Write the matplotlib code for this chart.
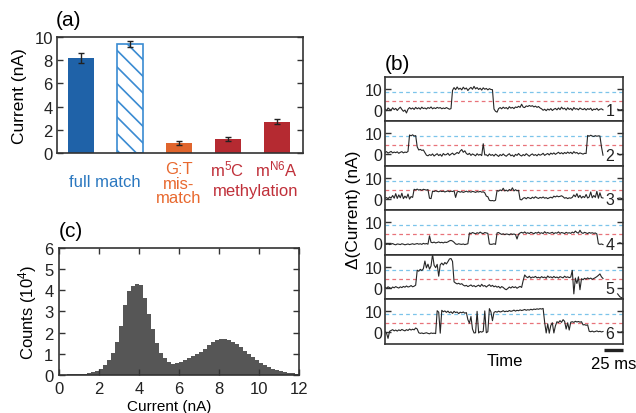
import matplotlib
matplotlib.use("Agg")
import matplotlib.pyplot as plt
import matplotlib.transforms as mtransforms
import numpy as np

plt.rcParams['font.family'] = ['Liberation Sans', 'DejaVu Sans']
plt.rcParams['mathtext.fontset'] = 'custom'
plt.rcParams['mathtext.rm'] = 'Liberation Sans'
plt.rcParams['mathtext.it'] = 'Liberation Sans:italic'
plt.rcParams['hatch.linewidth'] = 1.2

# ---------------------------------------------------------
# (a) bar data
# ---------------------------------------------------------
BAR_VALUES = [8.2, 9.4, 0.85, 1.2, 2.7]
BAR_ERRORS = [0.45, 0.25, 0.2, 0.15, 0.2]
BAR_COLORS = ['#1f62a8', 'white', '#e0652d', '#b52a31', '#b52a31']

# ---------------------------------------------------------
# (c) histogram, 0.2 nA bins from 0 to 12 nA (counts in 10^4)
# ---------------------------------------------------------
HIST_EDGES_START = 0.0
HIST_BIN = 0.2
HIST_COUNTS = [
    0.02, 0.02, 0.03, 0.03, 0.04, 0.05, 0.07, 0.09, 0.13, 0.20,
    0.30, 0.45, 0.70, 1.05, 1.55, 2.30, 3.30, 3.95, 4.20, 4.30,
    4.25, 3.65, 2.90, 2.15, 1.50, 1.05, 0.78, 0.62, 0.53, 0.55,
    0.62, 0.70, 0.78, 0.88, 0.98, 1.10, 1.25, 1.42, 1.57, 1.67,
    1.72, 1.72, 1.67, 1.58, 1.45, 1.30, 1.15, 1.00, 0.85, 0.70,
    0.57, 0.46, 0.37, 0.30, 0.24, 0.19, 0.15, 0.11, 0.08, 0.05,
]

# ---------------------------------------------------------
# (b) current traces, sampled every 2 ms from 0 to 284 ms
# ---------------------------------------------------------
TRACE_DT = 2.0
TRACE_1 = [
    0.3, -0.5, 0.8, 0.2, -0.3, 0.9, 0.0, 0.6, -0.4, 0.5,
    1.2, 0.1, -0.8, -0.2, -1.6, 0.2, 1.0, 0.3, 0.8, 0.1,
    1.1, 0.4, 0.9, 0.2, 1.2, 0.5, 0.8, 0.3, 1.0, 0.6,
    1.3, 0.4, 0.9, 0.5, 1.1, 0.7, 1.0, 0.4, 0.8, 0.5,
    1.0, 0.6, 0.2, 0.5, 9.3, 10.6, 9.6, 10.9, 9.8, 10.3,
    9.5, 10.8, 9.9, 10.4, 9.2, 10.1, 10.7, 9.8, 11.2, 10.0,
    10.6, 9.7, 10.3, 9.4, 10.5, 9.8, 10.2, 9.5, 10.1, 9.7,
    9.6, 0.3, -0.8, -1.2, 0.5, 1.0, 0.4, 1.2, 0.6, 1.0,
    0.3, 1.4, 0.7, 1.1, 0.5, 1.3, 1.0, 1.6, 1.1, 2.6,
    1.2, 1.0, 1.8, 1.5, 2.0, 1.6, 1.9, 1.3, 1.7, 1.1,
    1.5, 0.8, 0.4, -0.3, 0.2, -0.5, 0.3, -0.2, 0.5, -0.4,
    0.2, 0.6, -0.1, 0.8, 0.0, 1.2, 0.3, 0.7, -0.2, 0.9,
    0.1, 0.6, -0.3, 1.0, 0.2, 0.5, -0.1, 0.8, 0.3, 0.0,
    0.6, -0.2, 0.5, 0.1, 0.7, -0.4, 0.3, 0.0, 0.6, -0.3,
    0.2, 0.4, -0.1,
]
TRACE_2 = [
    0.8, 1.2, 0.5, 0.9, 1.3, 0.6, 1.0, 0.7, 1.1, 0.4,
    0.9, 1.2, 0.6, 1.0, 0.8, 1.3, 9.2, 8.8, 9.3, 8.7,
    8.9, 3.5, 2.0, 2.3, 1.8, 2.0, 0.8, -0.5, -0.8, -0.2,
    -0.6, 0.1, -0.9, -0.3, 0.2, -0.7, -0.1, -1.0, 0.3, -0.4,
    -0.2, 0.4, -0.6, 0.0, 0.5, -0.3, 0.2, 0.8, 0.3, 1.5,
    2.2, 0.9, 1.6, 0.3, -0.2, 0.4, -0.6, 0.1, -0.3, -0.8,
    0.2, -0.5, -0.1, -0.7, 5.0, -0.4, -0.3, -0.9, 0.1, -0.6,
    -0.2, -0.9, 0.0, -0.5, -1.1, -0.2, -0.7, 0.1, -0.6, -1.0,
    -0.3, 0.2, -0.8, -0.4, -1.2, -0.1, -0.6, 0.3, -0.5, -0.9,
    -0.2, -0.7, 0.2, -0.4, -1.0, -0.3, 0.1, -0.6, -0.2, -0.8,
    0.0, -0.5, -0.2, 0.4, -0.6, -0.1, 0.3, -0.4, 0.5, 0.0,
    0.6, -0.1, 0.4, 0.9, 0.2, 0.7, 0.1, 0.8, 0.3, 1.0,
    0.4, 0.9, 0.2, 1.2, 0.5, 0.8, 0.1, 0.6, 0.3, 0.0,
    0.4, 0.3, 9.0, 8.6, 9.1, 8.7, 8.5, 8.9, 8.6, 8.8,
    8.7, 3.5, -0.5,
]
TRACE_3 = [
    0.2, 0.5, 0.0, 0.8, 0.3, 1.5, 0.2, 2.4, 0.1, 1.8,
    0.4, 2.6, 0.0, 1.2, 0.3, 2.2, -0.2, 1.0, 0.6, 4.5,
    4.2, 4.6, 4.1, 4.4, 4.0, 4.5, 4.3, 4.1, 4.4, 0.2,
    0.0, 3.6, 3.4, 3.8, 3.5, 3.3, 3.7, 3.4, 3.6, 3.2,
    3.5, 3.7, 3.3, 3.6, 3.4, 3.8, 0.6, 3.2, 3.5, 3.1,
    3.4, 3.0, 3.3, 3.6, 3.2, 3.4, 3.1, 3.5, 3.3, 3.0,
    3.4, 3.2, 3.5, 3.1, 3.3, 2.8, 1.2, 0.9, -0.8, -1.0,
    -0.9, -1.1, -0.8, 3.9, 3.6, 4.2, 3.8, 5.0, 3.7, 4.1,
    3.6, 4.4, 3.9, 5.2, 3.7, 4.3, 3.8, 4.0, -0.4, -0.6,
    0.2, 0.5, -0.1, 0.6, 0.3, 0.0, 0.7, 0.2, 0.9, 0.4,
    0.1, 0.6, 0.3, 0.8, 0.2, 0.5, 0.0, 0.4, 0.7, 0.3,
    1.2, 0.8, 1.3, 0.9, 1.1, 1.4, 0.9, 0.2, 0.5, 0.0,
    0.4, 0.2, 0.6, 1.8, 0.9, 2.4, 0.5, 1.6, 0.3, 1.1,
    0.5, 2.0, 0.3, 0.8, 3.2, 0.4, 1.5, 0.6, 3.5, 0.2,
    2.8, 0.5, 0.3,
]
TRACE_4 = [
    -0.3, -0.6, -0.4, -0.7, -0.5, -0.2, -0.6, -0.8, -0.4, -0.5,
    -0.7, -0.3, -0.5, -0.8, -0.6, -0.4, -0.7, -0.5, -0.3, -0.6,
    -0.4, -0.2, -0.5, -0.3, -0.6, -0.1, -0.4, -0.2, -0.5, 3.5,
    0.4, 0.2, 0.5, 0.1, 0.3, 0.6, 0.2, 0.4, 0.1, 0.5,
    0.3, 0.6, 1.1, 1.3, 1.0, 0.4, -0.4, -0.6, -0.3, -0.5,
    -0.6, -0.4, -0.7, -0.5, -0.3, 4.9, 4.6, 5.1, 4.8, 4.5,
    5.0, 4.7, 5.3, 4.8, 4.6, 5.1, 4.9, 4.7, -0.4, -0.6,
    -0.5, -0.3, -0.6, 4.9, 5.1, 4.6, 4.2, 4.5, 4.1, 4.4,
    4.3, 4.0, 4.5, 4.2, 4.4, 4.1, 2.0, 4.3, 4.9, 5.2,
    4.8, 5.4, 4.7, 5.0, 4.6, 5.2, 4.9, 4.5, 5.1, 4.8,
    5.3, 4.7, 5.0, 4.6, 5.5, 4.8, 5.1, 4.7, 4.9, 5.2,
    4.6, 5.0, 4.8, 5.4, 4.7, 5.1, 4.9, 4.6, 5.2, 4.8,
    5.0, 4.7, 5.3, 4.9, 5.8, 5.1, 4.8, 6.2, 5.0, 4.7,
    5.2, 4.9, 4.6, 5.1, 4.8, 5.0, 4.7, 4.9, 4.4, -0.3,
    -0.6, -0.4, -0.7,
]
TRACE_5 = [
    0.2, -0.3, 0.4, 0.0, -0.5, 0.3, -0.1, 0.5, 0.1, -0.2,
    0.4, 0.0, 0.6, 0.2, 0.8, 0.3, 0.5, 1.0, 0.4, 0.7,
    1.2, 8.4, 7.9, 8.8, 8.2, 9.1, 12.8, 9.5, 11.3, 8.9,
    10.4, 16.0, 10.8, 9.6, 11.2, 5.5, 11.0, 11.8, 10.9, 12.1,
    11.4, 12.5, 13.8, 14.0, 12.6, 2.8, 2.2, 1.8, 2.1, 1.6,
    1.9, 1.2, 0.8, 1.1, 0.5, 0.9, 1.3, 0.6, 1.0, 0.4,
    0.8, 1.2, 0.5, 1.6, 0.7, 1.0, 0.3, 0.9, 1.4, 0.6,
    1.1, 0.4, 0.8, 0.2, 0.6, -0.2, 0.5, 0.1, -0.6, -1.0,
    -0.4, 0.3, -0.2, 0.5, 0.0, 0.4, -0.3, 0.2, 0.6, 0.1,
    3.4, 6.1, 5.2, 4.8, 5.5, 4.6, 5.1, 4.9, 5.4, 4.7,
    5.0, 4.6, 5.3, 4.8, 5.1, 4.5, 5.6, 4.9, 5.2, 4.7,
    5.4, 4.8, 5.1, 4.6, 5.3, 5.0, 4.7, 5.5, 4.9, 5.2,
    4.8, 5.1, 8.3, -3.0, 4.6, 2.0, 5.2, -1.0, 4.3, 3.8,
    4.5, 4.1, 4.7, 4.2, 4.6, 4.0, 4.4, 4.8, 5.3, 5.9,
    6.6, 5.2, 4.4,
]
TRACE_6 = [
    0.3, -0.5, -3.0, 0.4, 0.8, 1.2, 0.6, 1.0, 0.5, 1.1,
    0.7, 1.3, 0.9, 0.6, 1.2, 0.8, 1.5, 1.0, 1.4, 1.1,
    2.0, 1.5, -0.3, -0.6, -0.4, -0.7, -0.5, -0.3, -0.6, -0.8,
    -0.4, -0.6, -0.5, -0.7, 10.3, 9.6, -0.5, 10.5, 9.8, 10.2,
    9.5, 10.1, 9.3, 9.8, 9.0, 10.0, 9.4, 9.7, 8.9, 9.6,
    9.3, 9.7, 9.1, 9.4, 6.0, 4.3, 7.5, 1.5, -0.4, -0.3,
    10.0, -0.4, 0.3, 0.0, 0.4, 10.2, -0.3, 0.2, 11.3, 9.8,
    5.5, 9.5, 9.9, 9.6, 10.1, 9.7, 9.9, 10.3, 9.8, 10.1,
    9.9, 10.4, 10.0, 10.2, 10.6, 10.1, 10.5, 10.3, 10.7, 10.4,
    10.6, 10.9, 10.5, 10.8, 10.6, 11.0, 10.7, 11.1, 10.9, 11.2,
    11.0, 11.3, 11.1, 11.4, 4.7, -0.4, 4.0, -0.5, 3.2, 4.5,
    -0.4, 3.0, 5.0, 4.6, 5.5, 4.7, 6.0, 5.2, 1.5, 4.5,
    1.0, 4.8, 5.0, 4.7, 5.2, 4.9, 5.1, 4.8, 5.0, 3.5,
    3.6, 3.3, 3.5, 0.4, 0.2, 0.5, 0.1, 0.3, 0.6, 0.2,
    0.4, 0.1, 0.3,
]
TRACES = [TRACE_1, TRACE_2, TRACE_3, TRACE_4, TRACE_5, TRACE_6]

# short bits of trace that show again at the right edge, after the number
TAIL_TIMES = [303, 306, 310]
TAIL_VALUES = [
    [0.2, -0.2, 0.1],
    [0.3, -0.4, 0.0],
    [0.1, 0.3, -0.1],
    [-0.3, 0.2, -0.5],
    [-3.0, -4.4, -5.2],
    [0.2, -0.1, 0.3],
]

BLUE_LEVEL = 8.7
RED_LEVEL = 4.3
T_MAX = 310
SCALE_MS = 25

SPINE = '#333333'
TRACE_COLOR = '#262626'


def style_axes(ax, size):
    for s in ax.spines.values():
        s.set_color(SPINE)
        s.set_linewidth(1.2)
    ax.tick_params(direction='in', length=4, width=1.0, color=SPINE,
                   labelsize=size, labelcolor='#222222')


def plot_bars(fig):
    ax = fig.add_axes([0.0896, 0.628, 0.387, 0.280])
    style_axes(ax, 12)
    x = np.arange(1, len(BAR_VALUES) + 1)
    for i in range(len(x)):
        if i == 1:
            ax.bar(x[i], BAR_VALUES[i], width=0.53, facecolor='white',
                   edgecolor='#3a8bd2', hatch='\\\\', linewidth=1.2)
        else:
            ax.bar(x[i], BAR_VALUES[i], width=0.53, color=BAR_COLORS[i])
    ax.errorbar(x, BAR_VALUES, yerr=BAR_ERRORS, fmt='none', ecolor='#222222',
                elinewidth=1.0, capsize=2.2, capthick=1.0)
    ax.set_xlim(0.52, 5.54)
    ax.set_ylim(0, 10)
    ax.set_yticks([0, 2, 4, 6, 8, 10])
    ax.set_xticks([])
    ax.tick_params(axis='y', right=True, pad=3)
    ax.set_ylabel('Current (nA)', fontsize=12.5, labelpad=5)

    blue, orange, red = '#2b78c0', '#e8692f', '#c0303a'
    kw = dict(ha='center', va='center', fontsize=12, clip_on=False)
    ax.text(1.5, -2.5, 'full match', color=blue, **kw)
    ax.text(3, -1.3, 'G:T', color=orange, **kw)
    ax.text(3, -2.6, 'mis-', color=orange, **kw)
    ax.text(3, -3.85, 'match', color=orange, **kw)
    ax.text(4, -1.3, 'm$^{5}$C', color=red, **kw)
    ax.text(5, -1.3, 'm$^{\\mathrm{N6}}$A', color=red, **kw)
    ax.text(4.57, -3.25, 'methylation', color=red, **kw)
    fig.text(0.088, 0.950, '(a)', fontsize=15, va='center', ha='left')


def plot_hist(fig):
    ax = fig.add_axes([0.0928, 0.0918, 0.377, 0.307])
    style_axes(ax, 12)
    edges = HIST_EDGES_START + HIST_BIN * np.arange(len(HIST_COUNTS))
    ax.bar(edges, HIST_COUNTS, width=HIST_BIN, align='edge',
           color='#565656', linewidth=0)
    ax.set_xlim(0, 12)
    ax.set_ylim(0, 6)
    ax.set_xticks(range(0, 13, 2))
    ax.set_yticks(range(0, 7))
    ax.tick_params(top=True, right=True, pad=4)
    ax.set_xlabel('Current (nA)', fontsize=11)
    ax.xaxis.set_label_coords(0.46, -0.19)
    ax.set_ylabel('Counts (10$^{4}$)', fontsize=12, labelpad=4)
    fig.text(0.092, 0.440, '(c)', fontsize=15, va='center', ha='left')


def plot_traces(fig):
    left, width = 0.6053, 0.3742
    top, bottom = 0.8116, 0.1667
    h = (top - bottom) / len(TRACES)
    axes = []
    for i, trace in enumerate(TRACES):
        ax = fig.add_axes([left, top - (i + 1) * h, width, h])
        style_axes(ax, 11.5)
        t = TRACE_DT * np.arange(len(trace))
        ax.axhline(BLUE_LEVEL, color='#7cc4ea', lw=0.9, ls=(0, (3, 2.5)))
        ax.axhline(RED_LEVEL, color='#e8737a', lw=0.9, ls=(0, (3, 2.5)))
        ax.plot(t, trace, color=TRACE_COLOR, lw=0.8)
        ax.plot(TAIL_TIMES, TAIL_VALUES[i], color=TRACE_COLOR, lw=0.8)
        ax.text(293, -0.6, str(i + 1), fontsize=11.5, ha='center', va='center',
                color='#222222')
        ax.set_xlim(0, T_MAX)
        ax.set_ylim(-5.7, 15.7)
        ax.set_yticks([0, 10])
        ax.set_xticks([])
        ax.tick_params(axis='y', right=True, pad=2)
        axes.append(ax)

    ax = axes[-1]
    trans = mtransforms.blended_transform_factory(ax.transData, ax.transAxes)
    ax.plot([T_MAX - SCALE_MS, T_MAX], [-0.14, -0.14], color='#222222', lw=2.4,
            transform=trans, clip_on=False, solid_capstyle='butt')
    ax.text(T_MAX - SCALE_MS / 2 + 1, -0.43, '%d ms' % SCALE_MS, transform=trans,
            ha='center', va='center', fontsize=12)
    ax.text(156, -0.37, 'Time', transform=trans, ha='center', va='center',
            fontsize=12)
    fig.text(0.556, 0.493, '\u0394(Current) (nA)', rotation=90, fontsize=12.4,
             ha='center', va='center')
    fig.text(0.605, 0.843, '(b)', fontsize=15, va='center', ha='left')


def main():
    fig = plt.figure(figsize=(6.36, 4.14), dpi=100)
    plot_bars(fig)
    plot_hist(fig)
    plot_traces(fig)
    fig.savefig('out.png', dpi=100)


if __name__ == '__main__':
    main()
